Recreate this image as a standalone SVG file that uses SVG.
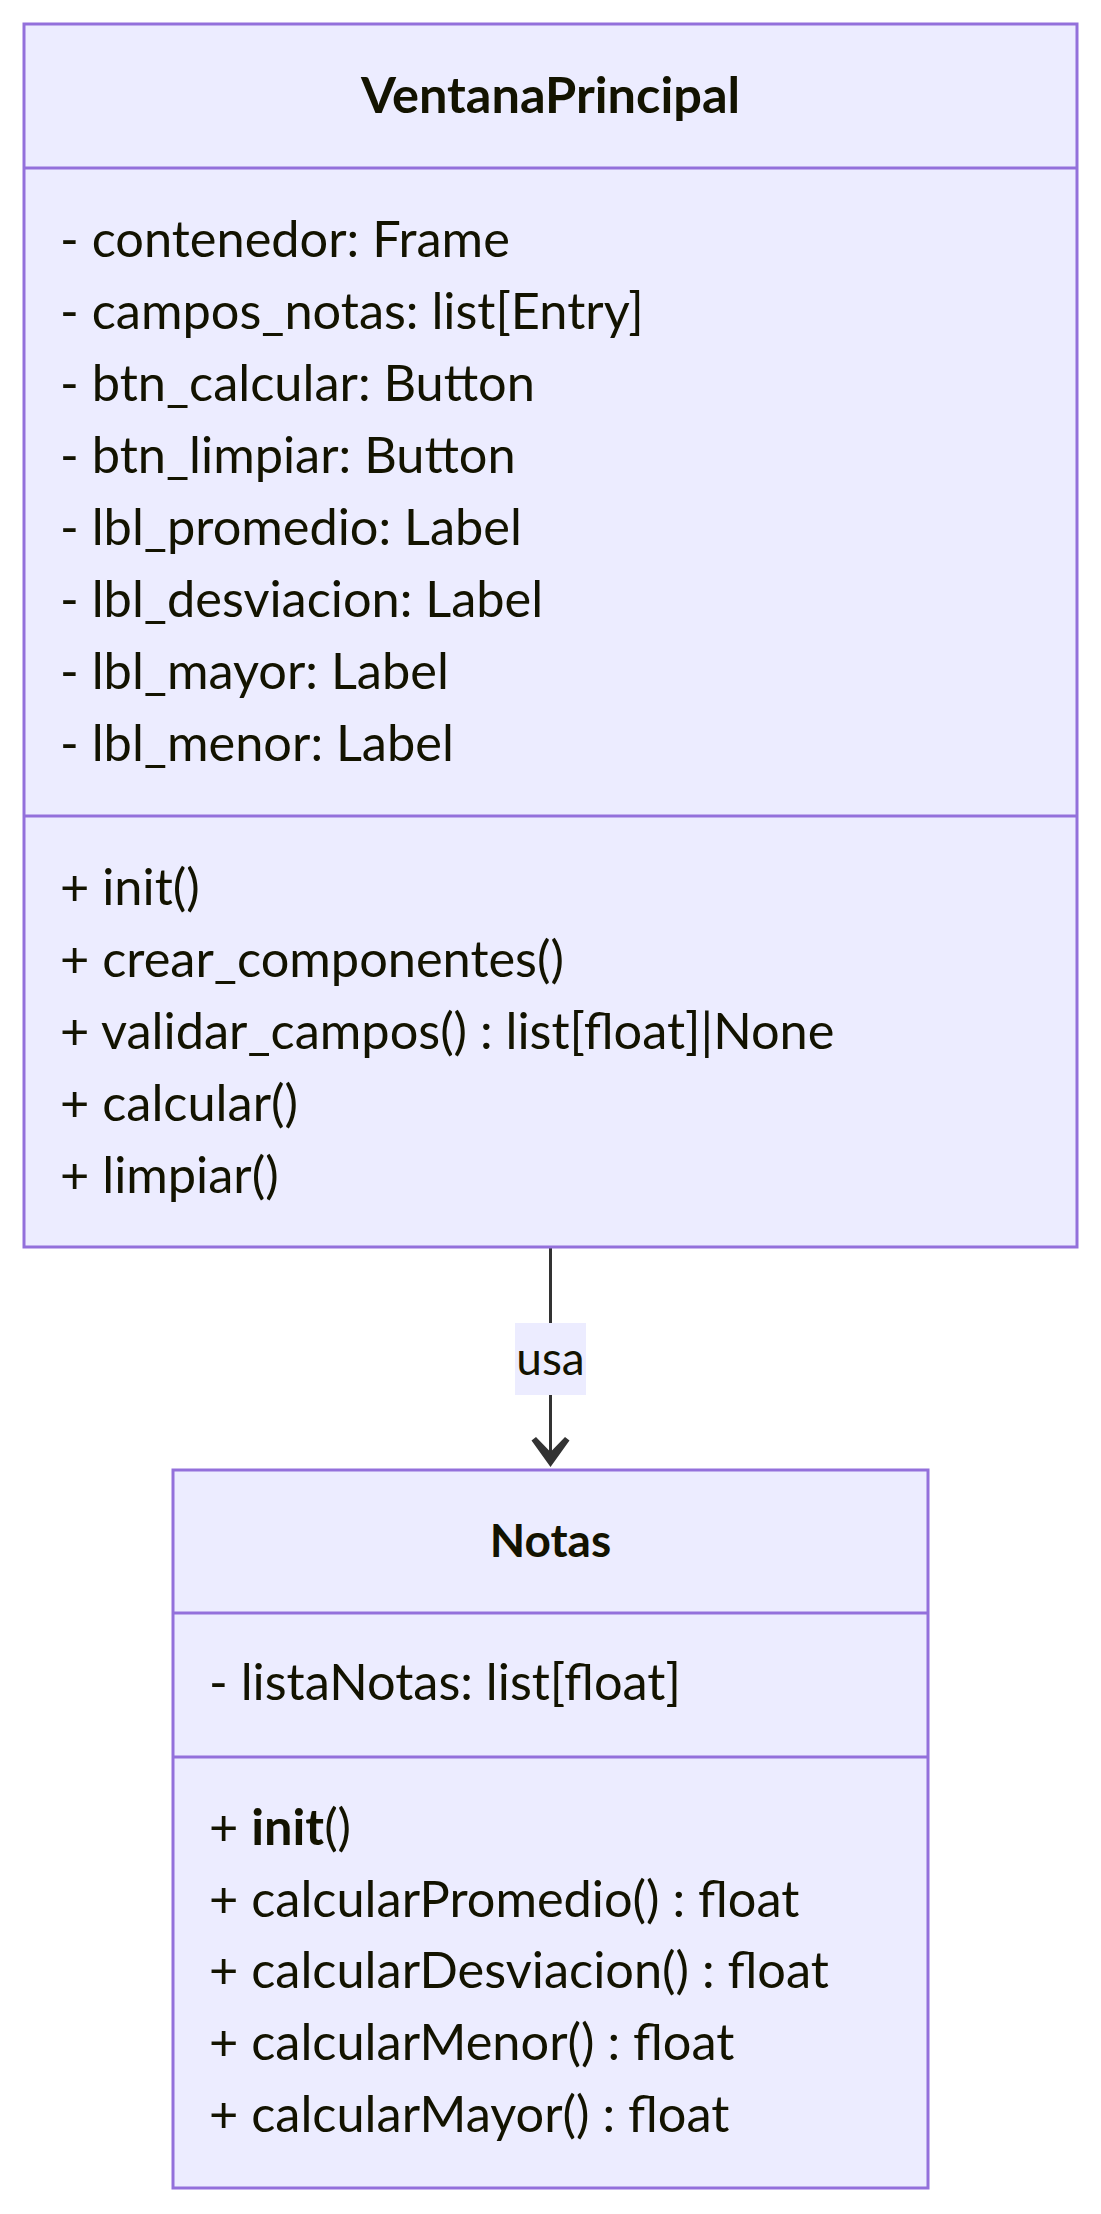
<svg xmlns="http://www.w3.org/2000/svg" width="1101" height="2214" viewBox="0 0 1101 2214">
<style>
.box{fill:#ECECFF;stroke:#9370DB;stroke-width:3}
.div{stroke:#9370DB;stroke-width:3}
text{font-family:Lato,"Liberation Sans",sans-serif;font-size:50.5px;fill:#131300}
.title{font-weight:bold;text-anchor:middle}
.small{font-size:46px}
.lbl{text-anchor:middle;font-size:46px}
.rel{stroke:#333333;stroke-width:3;fill:none}
</style>
<rect width="1101" height="2214" fill="#ffffff"/>
<g id="connectors">
<line class="rel" x1="550.5" y1="1247" x2="550.5" y2="1458"/>
<polygon points="550.5,1467 531.5,1440.5 536,1437 550.5,1452 565,1437 569.5,1440.5" fill="#333333"/>
<rect x="515" y="1323" width="71" height="72" fill="#ECECFF"/>
<text class="lbl" x="550.5" y="1375">usa</text>
</g>
<g id="VentanaPrincipal">
<rect class="box" x="24" y="24" width="1053" height="1223"/>
<line class="div" x1="24" y1="168" x2="1077" y2="168"/>
<line class="div" x1="24" y1="816" x2="1077" y2="816"/>
<text class="title" x="550.5" y="113">VentanaPrincipal</text>
<text x="60" y="257">- contenedor: Frame</text>
<text x="60" y="329">- campos_notas: list[Entry]</text>
<text x="60" y="401">- btn_calcular: Button</text>
<text x="60" y="473">- btn_limpiar: Button</text>
<text x="60" y="545">- lbl_promedio: Label</text>
<text x="60" y="617">- lbl_desviacion: Label</text>
<text x="60" y="689">- lbl_mayor: Label</text>
<text x="60" y="761">- lbl_menor: Label</text>
<text x="60" y="905">+ init()</text>
<text x="60" y="977">+ crear_componentes()</text>
<text x="60" y="1049">+ validar_campos() : list[float]|None</text>
<text x="60" y="1121">+ calcular()</text>
<text x="60" y="1193">+ limpiar()</text>
</g>
<g id="Notas">
<rect class="box" x="173" y="1470" width="755" height="718"/>
<line class="div" x1="173" y1="1613" x2="928" y2="1613"/>
<line class="div" x1="173" y1="1757" x2="928" y2="1757"/>
<text class="title small" x="550.5" y="1557">Notas</text>
<text x="209" y="1700">- listaNotas: list[float]</text>
<text x="209" y="1845">+ <tspan font-weight="bold">init</tspan>()</text>
<text x="209" y="1917">+ calcularPromedio() : float</text>
<text x="209" y="1988">+ calcularDesviacion() : float</text>
<text x="209" y="2060">+ calcularMenor() : float</text>
<text x="209" y="2132">+ calcularMayor() : float</text>
</g>
</svg>
